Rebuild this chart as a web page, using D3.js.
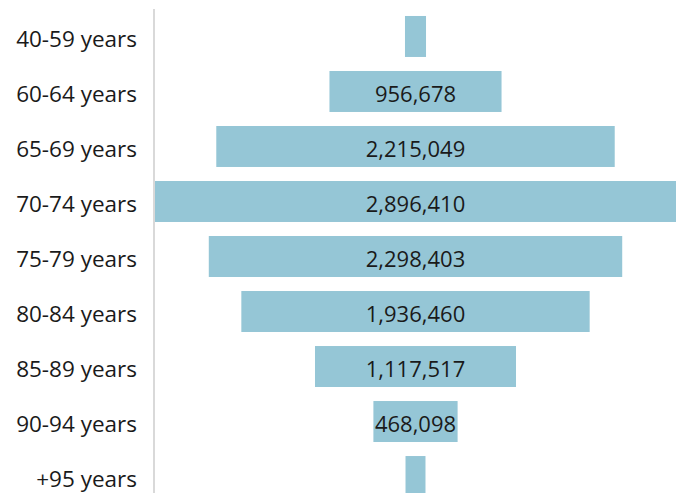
<!DOCTYPE html>
<html>
<head>
<meta charset="utf-8">
<script src="https://cdn.jsdelivr.net/npm/d3@7"></script>
<style>
  html, body { margin: 0; padding: 0; background: #fff; overflow: hidden; }
  svg { display: block; font-family: "Open Sans", "Noto Sans", sans-serif; }
</style>
</head>
<body>
<svg id="chart" width="683" height="493"></svg>
<script>
// Age groups and population counts
const ageGroups = ["40-59 years", "60-64 years", "65-69 years", "70-74 years", "75-79 years",
                   "80-84 years", "85-89 years", "90-94 years", "+95 years"];
const population = [117000, 956678, 2215049, 2896410, 2298403, 1936460, 1117517, 468098, 111000];
const showLabel = [false, true, true, true, true, true, true, true, false];

const svg = d3.select("#chart");
const axisX = 154;
const centerX = 415.5;
const plotWidth = 521;

const y = d3.scaleBand()
  .domain(ageGroups)
  .range([9, 504])
  .paddingInner(0.255)
  .paddingOuter(0.127);

const w = d3.scaleLinear()
  .domain([0, d3.max(population)])
  .range([0, plotWidth]);

const rows = ageGroups.map((g, i) => ({ group: g, value: population[i], label: showLabel[i] }));

// vertical category axis line
svg.append("line")
  .attr("x1", axisX).attr("x2", axisX)
  .attr("y1", 9).attr("y2", 493)
  .attr("stroke", "#d9d9d9").attr("stroke-width", 2);

// category labels
svg.append("g").selectAll("text").data(rows).join("text")
  .attr("x", 137)
  .attr("y", d => y(d.group) + y.bandwidth() / 2 + 10.5)
  .attr("text-anchor", "end")
  .attr("font-size", 22.5)
  .attr("fill", "#1a1a1a")
  .text(d => d.group);

// funnel bars, centred on a common axis
svg.append("g").selectAll("rect").data(rows).join("rect")
  .attr("x", d => centerX - w(d.value) / 2)
  .attr("y", d => y(d.group))
  .attr("width", d => w(d.value))
  .attr("height", y.bandwidth())
  .attr("fill", "#95c6d6");

// value labels
const fmt = d3.format(",");
svg.append("g").selectAll("text").data(rows.filter(d => d.label)).join("text")
  .attr("x", centerX)
  .attr("y", d => y(d.group) + y.bandwidth() / 2 + 10.5)
  .attr("text-anchor", "middle")
  .attr("font-size", 22)
  .attr("fill", "#1a1a1a")
  .text(d => fmt(d.value));
</script>
</body>
</html>
